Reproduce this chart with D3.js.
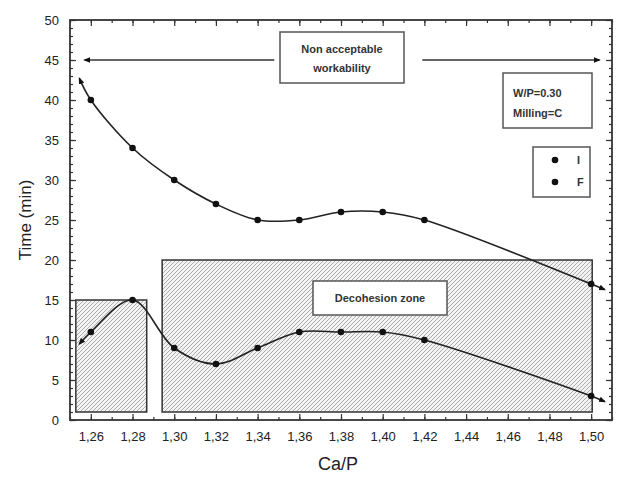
<!DOCTYPE html>
<html>
<head>
<meta charset="utf-8">
<script src="https://cdn.jsdelivr.net/npm/d3@7"></script>
<style>
  html, body { margin: 0; padding: 0; background: #fff; }
  svg { display: block; font-family: "Liberation Sans", Arial, Helvetica, sans-serif; }
</style>
</head>
<body>
<svg id="chart" width="621" height="483"></svg>
<script>
// Ca/P ratios where setting times were measured
const caP = [1.26, 1.28, 1.30, 1.32, 1.34, 1.36, 1.38, 1.40, 1.42, 1.50];
// Initial (I) and final (F) setting times, minutes
const timeI = [40, 34, 30, 27, 25, 25, 26, 26, 25, 17];
const timeF = [11, 15, 9, 7, 9, 11, 11, 11, 10, 3];
// Fitted curves extend slightly past the first and last measurement
const tailI = { start: [1.2545, 42.7], end: [1.5065, 16.3] };
const tailF = { start: [1.2545, 9.5], end: [1.5065, 2.3] };

// Axis ticks
const xTicks = [1.26, 1.28, 1.30, 1.32, 1.34, 1.36, 1.38, 1.40, 1.42, 1.44, 1.46, 1.48, 1.50];
const yTicks = [0, 5, 10, 15, 20, 25, 30, 35, 40, 45, 50];

// Decohesion zones: [x0, x1, y0, y1]
const zoneLow = [1.2528, 1.2868, 1, 15];
const zoneHigh = [1.2942, 1.5005, 1, 20];
// Arrow span for the non acceptable workability region (y = 45)
const workabilityY = 45;
const workabilityLeft = [1.2570, 1.3480];
const workabilityRight = [1.4190, 1.5040];

const legendItems = ["I", "F"];

const svg = d3.select("#chart");
const x = d3.scaleLinear().domain([1.25, 1.51]).range([70, 612]);
const y = d3.scaleLinear().domain([0, 50]).range([420, 20]);

const defs = svg.append("defs");
const hatch = defs.append("pattern")
  .attr("id", "hatch").attr("patternUnits", "userSpaceOnUse")
  .attr("width", 4).attr("height", 4);
hatch.append("rect").attr("width", 4).attr("height", 4).attr("fill", "#f3f3f3");
hatch.append("path").attr("d", "M-1,1 l2,-2 M0,4 l4,-4 M3,5 l2,-2")
  .attr("stroke", "#9a9a9a").attr("stroke-width", 0.8);

defs.append("marker").attr("id", "tip")
  .attr("viewBox", "0 0 10 10").attr("refX", 8).attr("refY", 5)
  .attr("markerWidth", 7).attr("markerHeight", 7).attr("orient", "auto-start-reverse")
  .attr("markerUnits", "userSpaceOnUse")
  .append("path").attr("d", "M0,1 L10,5 L0,9 Z").attr("fill", "#111");

// Hatched zones
[zoneLow, zoneHigh].forEach(z => {
  svg.append("rect")
    .attr("x", x(z[0])).attr("y", y(z[3]))
    .attr("width", x(z[1]) - x(z[0])).attr("height", y(z[2]) - y(z[3]))
    .attr("fill", "url(#hatch)").attr("stroke", "#333").attr("stroke-width", 1.5);
});

// Axes: ticks drawn inward on all four sides
function tickAxis(axisFn, ticks, size, labels, transform) {
  const a = axisFn.tickValues(ticks).tickSize(size).tickPadding(7);
  if (!labels) a.tickFormat("");
  const g = svg.append("g").attr("transform", transform).call(a);
  g.select(".domain").remove();
  g.selectAll(".tick line").attr("stroke", "#333").attr("stroke-width", 1.2);
  return g;
}
const xMinor = d3.range(1.25, 1.5101, 0.01).map(v => +v.toFixed(2));
const yMinor = d3.range(0, 50.01, 1);

tickAxis(d3.axisBottom(x), xMinor, -3, false, `translate(0,${y(0)})`);
tickAxis(d3.axisTop(x), xMinor, -3, false, `translate(0,${y(50)})`);
tickAxis(d3.axisLeft(y), yMinor, -3, false, `translate(${x(1.25)},0)`);
tickAxis(d3.axisRight(y), yMinor, -3, false, `translate(${x(1.51)},0)`);

const fmtX = d => d.toFixed(2).replace(".", ",");
const gx = tickAxis(d3.axisBottom(x).tickFormat(fmtX), xTicks, -6, true, `translate(0,${y(0)})`);
gx.selectAll("text").attr("font-size", 13).attr("fill", "#222").attr("dy", "1.1em").attr("font-family", "Liberation Sans, Arial, sans-serif");
tickAxis(d3.axisTop(x), xTicks, -6, false, `translate(0,${y(50)})`);
const gy = tickAxis(d3.axisLeft(y), yTicks, -6, true, `translate(${x(1.25)},0)`);
gy.selectAll("text").attr("font-size", 13).attr("fill", "#222").attr("dx", "-4").attr("font-family", "Liberation Sans, Arial, sans-serif");
tickAxis(d3.axisRight(y), yTicks, -6, false, `translate(${x(1.51)},0)`);

// Plot frame
svg.append("rect")
  .attr("x", x(1.25)).attr("y", y(50))
  .attr("width", x(1.51) - x(1.25)).attr("height", y(0) - y(50))
  .attr("fill", "none").attr("stroke", "#333").attr("stroke-width", 1.8);

// Axis titles
svg.append("text").attr("x", (x(1.25) + x(1.51)) / 2 - 3).attr("y", 470)
  .attr("text-anchor", "middle").attr("font-size", 18).attr("fill", "#222").text("Ca/P");
svg.append("text").attr("transform", `translate(31,${(y(0) + y(50)) / 2}) rotate(-90)`)
  .attr("text-anchor", "middle").attr("font-size", 17).attr("fill", "#222").text("Time (min)");

// Fitted curves with end tips
const line = d3.line().x(d => x(d[0])).y(d => y(d[1])).curve(d3.curveCatmullRom.alpha(0.5));
[[timeI, tailI], [timeF, tailF]].forEach(([vals, tail]) => {
  const pts = [tail.start, ...caP.map((c, i) => [c, vals[i]]), tail.end];
  svg.append("path").attr("d", line(pts))
    .attr("fill", "none").attr("stroke", "#222").attr("stroke-width", 1.6)
    .attr("marker-start", "url(#tip)").attr("marker-end", "url(#tip)");
  svg.append("g").selectAll("circle").data(caP).join("circle")
    .attr("cx", d => x(d)).attr("cy", (d, i) => y(vals[i])).attr("r", 3.3).attr("fill", "#111");
});

// Non acceptable workability arrows and label box
const arrowY = y(workabilityY);
svg.append("line").attr("x1", x(workabilityLeft[1])).attr("x2", x(workabilityLeft[0]))
  .attr("y1", arrowY).attr("y2", arrowY).attr("stroke", "#333").attr("stroke-width", 1.3)
  .attr("marker-end", "url(#tip)");
svg.append("line").attr("x1", x(workabilityRight[0])).attr("x2", x(workabilityRight[1]))
  .attr("y1", arrowY).attr("y2", arrowY).attr("stroke", "#333").attr("stroke-width", 1.3)
  .attr("marker-end", "url(#tip)");

function labelBox(x0, y0, w, h, lines, lineY, anchor, tx) {
  svg.append("rect").attr("x", x0).attr("y", y0).attr("width", w).attr("height", h)
    .attr("fill", "#fff").attr("stroke", "#555").attr("stroke-width", 1.5);
  lines.forEach((t, i) => {
    svg.append("text").attr("x", tx).attr("y", lineY[i]).attr("text-anchor", anchor)
      .attr("font-size", 11).attr("font-weight", "bold").attr("fill", "#333").text(t);
  });
}
labelBox(280, 32, 124, 51, ["Non acceptable", "workability"], [53, 72], "middle", 342);
labelBox(503, 73, 89, 55, ["W/P=0.30", "Milling=C"], [97, 117], "start", 513);
labelBox(313, 281, 134, 34, ["Decohesion zone"], [302], "middle", 380);

// Legend
svg.append("rect").attr("x", 533).attr("y", 147).attr("width", 57).attr("height", 50)
  .attr("fill", "#fff").attr("stroke", "#555").attr("stroke-width", 1.5);
legendItems.forEach((name, i) => {
  svg.append("circle").attr("cx", 555).attr("cy", 160 + i * 22).attr("r", 3.3).attr("fill", "#111");
  svg.append("text").attr("x", 577).attr("y", 164 + i * 22).attr("font-size", 11)
    .attr("font-weight", "bold").attr("fill", "#333").text(name);
});
</script>
</body>
</html>
